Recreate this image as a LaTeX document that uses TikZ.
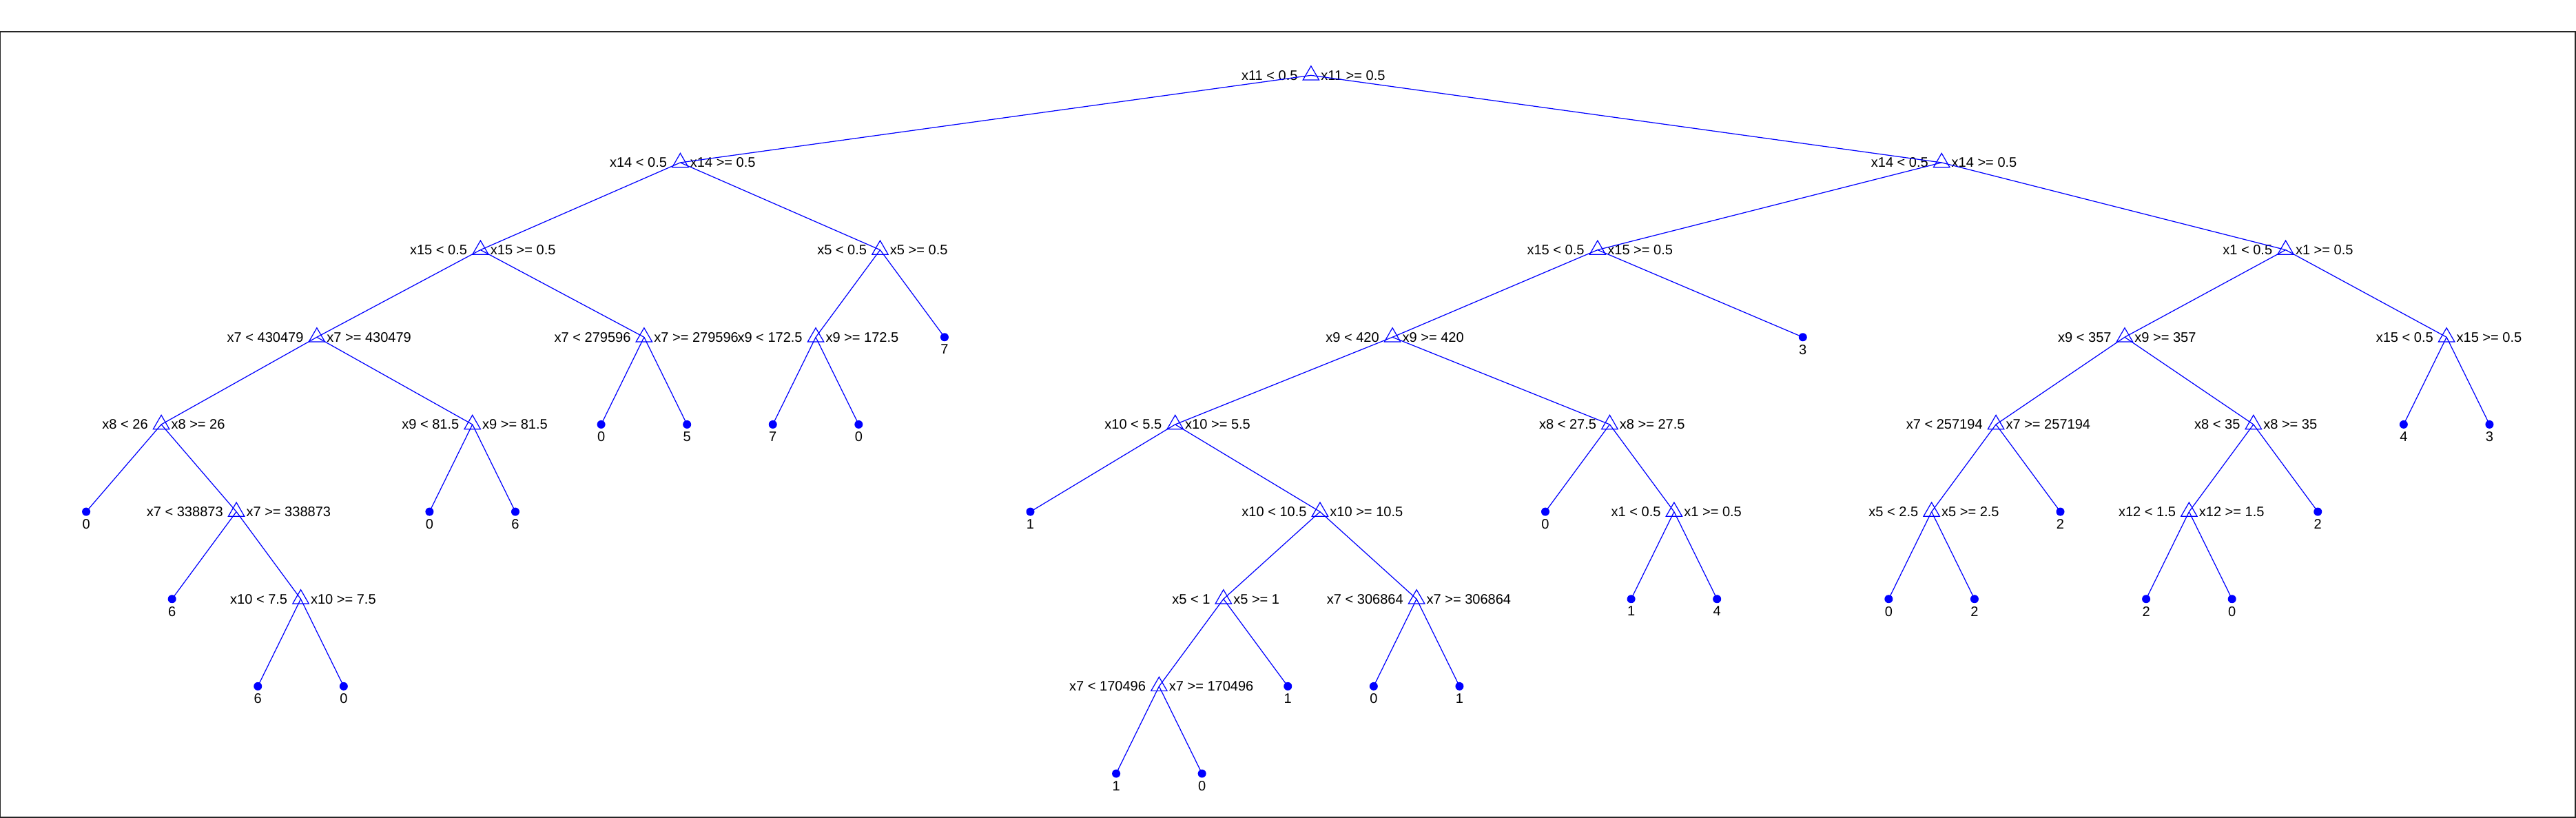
\documentclass[tikz,border=0pt]{standalone}
\usepackage{fontspec}
\setmainfont{Liberation Sans}
\usetikzlibrary{shapes.geometric}
\definecolor{treeblue}{rgb}{0,0,1}
\tikzset{
	split/.style={regular polygon, regular polygon sides=3, draw=treeblue, line width=0.35pt, minimum size=0.27cm, inner sep=0pt},
	leaf/.style={circle, fill=treeblue, minimum size=0.12cm, inner sep=0pt},
	rule/.style={font=\fontsize{5.7}{6.8}\selectfont, inner sep=1pt, text=black},
	lhs/.style={rule, xshift=-1.9pt},
	rhs/.style={rule, xshift=0.5pt},
	val/.style={rule},
	branch/.style={treeblue, line width=0.35pt},
}

\begin{document}
\begin{tikzpicture}[x=1.246cm, y=1.2667cm]
		%%%%% START %%%%%
		\useasboundingbox (-0.004,-8.508) rectangle (30.008,0.863);
		\draw[line width=0.4pt, color=black!85] (0, 0.5) rectangle (30, -8.5);
		
		% level 0
		\node[split, label={[lhs]left:x11 < 0.5}, label={[rhs]right:x11 >= 0.5}] (root) at (15.27, 0) {};
		
		% level 1
		\node[split, label={[lhs]left:x14 < 0.5}, label={[rhs]right:x14 >= 0.5}] (a) at (7.922, -1) {};
		\node[split, label={[lhs]left:x14 < 0.5}, label={[rhs]right:x14 >= 0.5}] (b) at (22.617, -1) {};
		
		% level 2
		\node[split, label={[lhs]left:x15 < 0.5}, label={[rhs]right:x15 >= 0.5}] (c) at (5.594, -2) {};
		\node[split, label={[lhs]left:x5 < 0.5}, label={[rhs]right:x5 >= 0.5}] (d) at (10.25, -2) {};
		\node[split, label={[lhs]left:x15 < 0.5}, label={[rhs]right:x15 >= 0.5}] (e) at (18.609, -2) {};
		\node[split, label={[lhs]left:x1 < 0.5}, label={[rhs]right:x1 >= 0.5}] (f) at (26.625, -2) {};
		
		% level 3
		\node[split, label={[lhs]left:x7 < 430479}, label={[rhs]right:x7 >= 430479}] (g) at (3.6875, -3) {};
		\node[split, label={[lhs]left:x7 < 279596}, label={[rhs]right:x7 >= 279596}] (h) at (7.5, -3) {};
		\node[split, label={[lhs]left:x9 < 172.5}, label={[rhs]right:x9 >= 172.5}] (i) at (9.5, -3) {};
		\node[leaf, label={[val]below:7}] (lf11) at (11, -3) {};
		\node[split, label={[lhs]left:x9 < 420}, label={[rhs]right:x9 >= 420}] (j) at (16.219, -3) {};
		\node[leaf, label={[val]below:3}] (lf21) at (21, -3) {};
		\node[split, label={[lhs]left:x9 < 357}, label={[rhs]right:x9 >= 357}] (k) at (24.75, -3) {};
		\node[split, label={[lhs]left:x15 < 0.5}, label={[rhs]right:x15 >= 0.5}] (l) at (28.5, -3) {};
		
		% level 4
		\node[split, label={[lhs]left:x8 < 26}, label={[rhs]right:x8 >= 26}] (m) at (1.875, -4) {};
		\node[split, label={[lhs]left:x9 < 81.5}, label={[rhs]right:x9 >= 81.5}] (n) at (5.5, -4) {};
		\node[leaf, label={[val]below:0}] (lf7) at (7, -4) {};
		\node[leaf, label={[val]below:5}] (lf8) at (8, -4) {};
		\node[leaf, label={[val]below:7}] (lf9) at (9, -4) {};
		\node[leaf, label={[val]below:0}] (lf10) at (10, -4) {};
		\node[split, label={[lhs]left:x10 < 5.5}, label={[rhs]right:x10 >= 5.5}] (o) at (13.6875, -4) {};
		\node[split, label={[lhs]left:x8 < 27.5}, label={[rhs]right:x8 >= 27.5}] (p) at (18.75, -4) {};
		\node[split, label={[lhs]left:x7 < 257194}, label={[rhs]right:x7 >= 257194}] (q) at (23.25, -4) {};
		\node[split, label={[lhs]left:x8 < 35}, label={[rhs]right:x8 >= 35}] (r) at (26.25, -4) {};
		\node[leaf, label={[val]below:4}] (lf28) at (28, -4) {};
		\node[leaf, label={[val]below:3}] (lf29) at (29, -4) {};
		
		% level 5
		\node[leaf, label={[val]below:0}] (lf1) at (1, -5) {};
		\node[split, label={[lhs]left:x7 < 338873}, label={[rhs]right:x7 >= 338873}] (s) at (2.75, -5) {};
		\node[leaf, label={[val]below:0}] (lf5) at (5, -5) {};
		\node[leaf, label={[val]below:6}] (lf6) at (6, -5) {};
		\node[leaf, label={[val]below:1}] (lf12) at (12, -5) {};
		\node[split, label={[lhs]left:x10 < 10.5}, label={[rhs]right:x10 >= 10.5}] (t) at (15.375, -5) {};
		\node[leaf, label={[val]below:0}] (lf18) at (18, -5) {};
		\node[split, label={[lhs]left:x1 < 0.5}, label={[rhs]right:x1 >= 0.5}] (u) at (19.5, -5) {};
		\node[split, label={[lhs]left:x5 < 2.5}, label={[rhs]right:x5 >= 2.5}] (v) at (22.5, -5) {};
		\node[leaf, label={[val]below:2}] (lf24) at (24, -5) {};
		\node[split, label={[lhs]left:x12 < 1.5}, label={[rhs]right:x12 >= 1.5}] (w) at (25.5, -5) {};
		\node[leaf, label={[val]below:2}] (lf27) at (27, -5) {};
		
		% level 6
		\node[leaf, label={[val]below:6}] (lf2) at (2, -6) {};
		\node[split, label={[lhs]left:x10 < 7.5}, label={[rhs]right:x10 >= 7.5}] (x) at (3.5, -6) {};
		\node[split, label={[lhs]left:x5 < 1}, label={[rhs]right:x5 >= 1}] (y) at (14.25, -6) {};
		\node[split, label={[lhs]left:x7 < 306864}, label={[rhs]right:x7 >= 306864}] (z) at (16.5, -6) {};
		\node[leaf, label={[val]below:1}] (lf19) at (19, -6) {};
		\node[leaf, label={[val]below:4}] (lf20) at (20, -6) {};
		\node[leaf, label={[val]below:0}] (lf22) at (22, -6) {};
		\node[leaf, label={[val]below:2}] (lf23) at (23, -6) {};
		\node[leaf, label={[val]below:2}] (lf25) at (25, -6) {};
		\node[leaf, label={[val]below:0}] (lf26) at (26, -6) {};
		
		% level 7
		\node[leaf, label={[val]below:6}] (lf3) at (3, -7) {};
		\node[leaf, label={[val]below:0}] (lf4) at (4, -7) {};
		\node[split, label={[lhs]left:x7 < 170496}, label={[rhs]right:x7 >= 170496}] (aa) at (13.5, -7) {};
		\node[leaf, label={[val]below:1}] (lf15) at (15, -7) {};
		\node[leaf, label={[val]below:0}] (lf16) at (16, -7) {};
		\node[leaf, label={[val]below:1}] (lf17) at (17, -7) {};
		
		% level 8
		\node[leaf, label={[val]below:1}] (lf13) at (13, -8) {};
		\node[leaf, label={[val]below:0}] (lf14) at (14, -8) {};
		
		% branches
		\draw[branch] (root.center) -- (a.center);
		\draw[branch] (root.center) -- (b.center);
		\draw[branch] (a.center) -- (c.center);
		\draw[branch] (a.center) -- (d.center);
		\draw[branch] (b.center) -- (e.center);
		\draw[branch] (b.center) -- (f.center);
		\draw[branch] (c.center) -- (g.center);
		\draw[branch] (c.center) -- (h.center);
		\draw[branch] (d.center) -- (i.center);
		\draw[branch] (d.center) -- (lf11.center);
		\draw[branch] (e.center) -- (j.center);
		\draw[branch] (e.center) -- (lf21.center);
		\draw[branch] (f.center) -- (k.center);
		\draw[branch] (f.center) -- (l.center);
		\draw[branch] (g.center) -- (m.center);
		\draw[branch] (g.center) -- (n.center);
		\draw[branch] (h.center) -- (lf7.center);
		\draw[branch] (h.center) -- (lf8.center);
		\draw[branch] (i.center) -- (lf9.center);
		\draw[branch] (i.center) -- (lf10.center);
		\draw[branch] (j.center) -- (o.center);
		\draw[branch] (j.center) -- (p.center);
		\draw[branch] (k.center) -- (q.center);
		\draw[branch] (k.center) -- (r.center);
		\draw[branch] (l.center) -- (lf28.center);
		\draw[branch] (l.center) -- (lf29.center);
		\draw[branch] (m.center) -- (lf1.center);
		\draw[branch] (m.center) -- (s.center);
		\draw[branch] (n.center) -- (lf5.center);
		\draw[branch] (n.center) -- (lf6.center);
		\draw[branch] (o.center) -- (lf12.center);
		\draw[branch] (o.center) -- (t.center);
		\draw[branch] (p.center) -- (lf18.center);
		\draw[branch] (p.center) -- (u.center);
		\draw[branch] (q.center) -- (v.center);
		\draw[branch] (q.center) -- (lf24.center);
		\draw[branch] (r.center) -- (w.center);
		\draw[branch] (r.center) -- (lf27.center);
		\draw[branch] (s.center) -- (lf2.center);
		\draw[branch] (s.center) -- (x.center);
		\draw[branch] (t.center) -- (y.center);
		\draw[branch] (t.center) -- (z.center);
		\draw[branch] (u.center) -- (lf19.center);
		\draw[branch] (u.center) -- (lf20.center);
		\draw[branch] (v.center) -- (lf22.center);
		\draw[branch] (v.center) -- (lf23.center);
		\draw[branch] (w.center) -- (lf25.center);
		\draw[branch] (w.center) -- (lf26.center);
		\draw[branch] (x.center) -- (lf3.center);
		\draw[branch] (x.center) -- (lf4.center);
		\draw[branch] (y.center) -- (aa.center);
		\draw[branch] (y.center) -- (lf15.center);
		\draw[branch] (z.center) -- (lf16.center);
		\draw[branch] (z.center) -- (lf17.center);
		\draw[branch] (aa.center) -- (lf13.center);
		\draw[branch] (aa.center) -- (lf14.center);
		
		%%%%% END %%%%%
	\end{tikzpicture}
\end{document}
